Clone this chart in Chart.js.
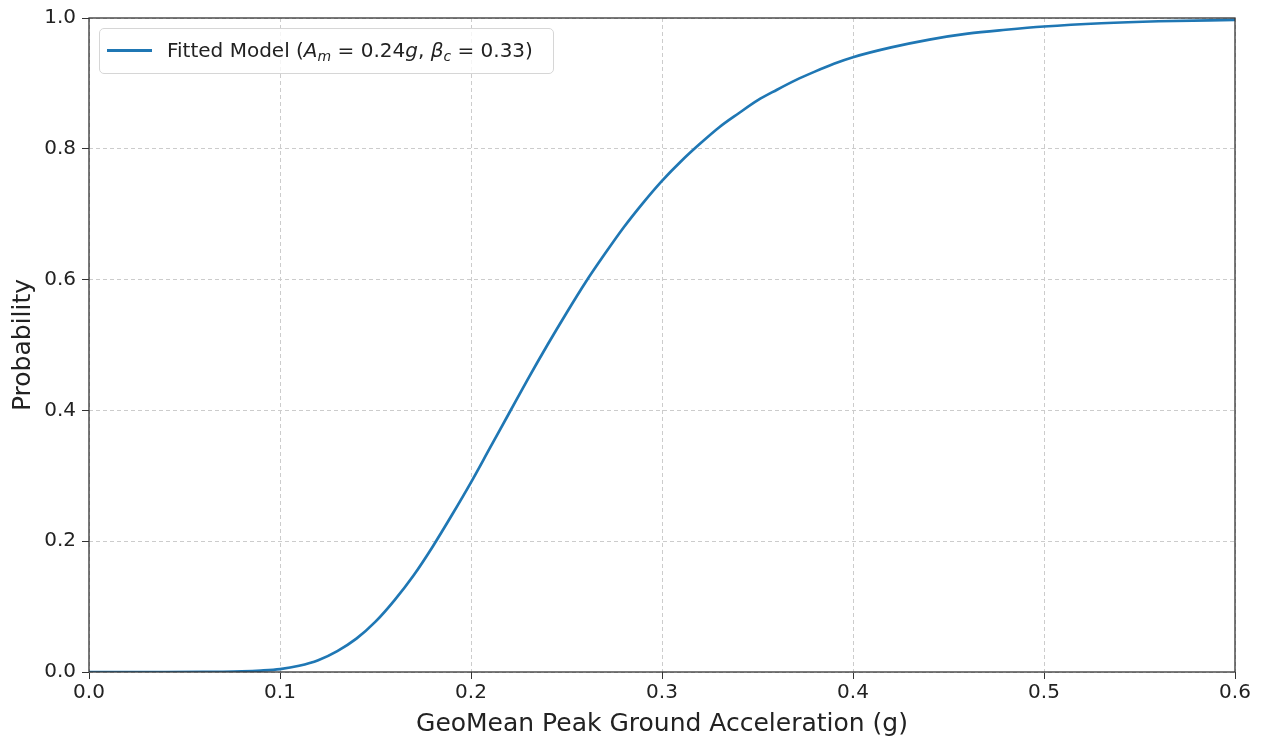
<!DOCTYPE html>
<html>
<head>
<meta charset="utf-8">
<script src="https://cdn.jsdelivr.net/npm/chart.js@4.4.1/dist/chart.umd.min.js"></script>
<style>
  html, body { margin: 0; padding: 0; background: #fff; }
  #wrap { position: relative; width: 1267px; height: 744px; }
  #legend {
    position: absolute; left: 99px; top: 28px; width: 455px; height: 46px;
    border: 1px solid #d6d6d6; border-radius: 5px; background: rgba(255,255,255,0.8);
    font-family: "DejaVu Sans", sans-serif; font-size: 20px; color: #222;
    box-sizing: border-box;
  }
  #legend .swatch { position: absolute; left: 7px; top: 20px; width: 45px; height: 3px; background: #1f77b4; }
  #legend .label { position: absolute; left: 67px; top: 9px; white-space: nowrap; line-height: 24px; }
  #legend i { font-family: "DejaVu Sans", sans-serif; font-style: italic; }
  #legend sub { font-size: 14px; vertical-align: -4px; line-height: 0; }
</style>
</head>
<body>
<div id="wrap">
  <canvas id="chart" width="1267" height="744"></canvas>
  <div id="legend"><div class="swatch"></div><div class="label">Fitted Model (<i>A</i><sub><i>m</i></sub> = 0.24<i>g</i>, <i>β</i><sub><i>c</i></sub> = 0.33)</div></div>
</div>
<script>
// PGA values (g) and read-off probabilities of the fitted fragility curve
const pga = [0, 0.02, 0.04, 0.06, 0.07, 0.08, 0.09, 0.10, 0.11, 0.12, 0.13, 0.14, 0.15, 0.16, 0.17, 0.18, 0.19,
             0.20, 0.21, 0.22, 0.23, 0.24, 0.25, 0.26, 0.27, 0.28, 0.29, 0.30, 0.31, 0.32, 0.33, 0.34,
             0.35, 0.36, 0.37, 0.38, 0.39, 0.40, 0.42, 0.44, 0.46, 0.48, 0.50, 0.53, 0.56, 0.60];
const prob = [0, 0, 0, 0.0001, 0.0003, 0.0009, 0.0022, 0.0045, 0.0095, 0.0180, 0.032, 0.051, 0.077, 0.110, 0.148, 0.192, 0.240,
              0.290, 0.343, 0.396, 0.449, 0.500, 0.549, 0.596, 0.639, 0.680, 0.717, 0.751, 0.781, 0.808, 0.833, 0.854,
              0.874, 0.890, 0.905, 0.918, 0.930, 0.940, 0.955, 0.967, 0.976, 0.982, 0.987, 0.992, 0.995, 0.997];
const xTicks = [0, 0.1, 0.2, 0.3, 0.4, 0.5, 0.6];
const yTicks = [0, 0.2, 0.4, 0.6, 0.8, 1.0];

const points = pga.map((x, i) => ({ x: x, y: prob[i] }));

// box round the plot area, like matplotlib spines
const frame = {
    id: 'frame',
    afterDraw(chart) {
        const a = chart.chartArea, c = chart.ctx;
        c.save();
        c.strokeStyle = '#333';
        c.lineWidth = 1.3;
        c.strokeRect(a.left, a.top, a.right - a.left, a.bottom - a.top);
        c.restore();
    }
};

const tickFont = { family: 'DejaVu Sans', size: 20 };
const titleFont = { family: 'DejaVu Sans', size: 25 };
const gridOpts = { color: '#cccccc', lineWidth: 1, tickColor: '#333', tickBorderDash: [], tickLength: 7 };

new Chart(document.getElementById('chart'), {
    type: 'line',
    data: {
        datasets: [{
            label: 'Fitted Model',
            data: points,
            borderColor: '#1f77b4',
            borderWidth: 2.7,
            pointRadius: 0,
            cubicInterpolationMode: 'monotone',
            fill: false
        }]
    },
    options: {
        responsive: false,
        animation: false,
        layout: { padding: { left: 0, right: 32, top: 18, bottom: 0 } },
        plugins: { legend: { display: false }, tooltip: { enabled: false } },
        scales: {
            x: {
                type: 'linear', min: 0, max: 0.6,
                afterBuildTicks: s => { s.ticks = xTicks.map(v => ({ value: v })); },
                afterFit: s => { s.height = 72; },
                ticks: { color: '#222', font: tickFont, padding: 2, callback: v => v.toFixed(1) },
                grid: gridOpts,
                border: { display: false, dash: [4, 3] },
                title: { display: true, text: 'GeoMean Peak Ground Acceleration (g)', color: '#222', font: titleFont, padding: { top: 0, bottom: 5 } }
            },
            y: {
                type: 'linear', min: 0, max: 1,
                afterBuildTicks: s => { s.ticks = yTicks.map(v => ({ value: v })); },
                afterFit: s => { s.width = 89; },
                ticks: { color: '#222', font: tickFont, padding: 6, callback: v => v.toFixed(1) },
                grid: gridOpts,
                border: { display: false, dash: [4, 3] },
                title: { display: true, text: 'Probability', color: '#222', font: titleFont, padding: { top: 8, bottom: 0 } }
            }
        }
    },
    plugins: [frame]
});
</script>
</body>
</html>
